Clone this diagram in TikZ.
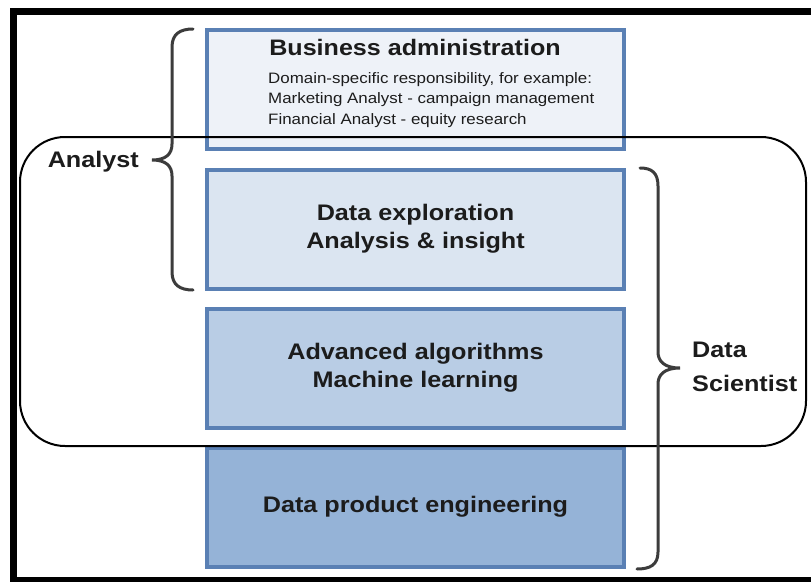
\documentclass[tikz,border=0pt]{standalone}
\usepackage{fontspec}
\setmainfont{Liberation Sans}[FakeStretch=1.12]
\definecolor{layerline}{RGB}{90,128,180}
\definecolor{layera}{RGB}{238,242,248}
\definecolor{layerb}{RGB}{219,229,241}
\definecolor{layerc}{RGB}{185,205,229}
\definecolor{layerd}{RGB}{149,179,215}
\definecolor{bracegrey}{RGB}{60,60,60}
\definecolor{ink}{RGB}{28,28,28}
\tikzset{
  layer/.style={draw=layerline, line width=4pt, minimum width=417pt,
    minimum height=119pt, inner sep=0pt, align=center, text=ink,
    font=\fontsize{22.5}{28}\selectfont\bfseries},
  curly/.style={draw=bracegrey, line width=3pt, line cap=round},
  role/.style={text=ink, inner sep=0pt, font=\fontsize{22.5}{34}\selectfont\bfseries},
}
\begin{document}
\begin{tikzpicture}[x=1pt, y=-1pt]
\useasboundingbox (0,0) rectangle (811,581);
\clip (0,0) rectangle (811,581);
\fill[white] (0,0) rectangle (811,581);
% the four layers
\node[layer, fill=layera] (business) at (415.5,89) {};
\foreach \n/\y/\c/\t in {explore/229/layerb/{Data exploration\\Analysis \& insight},
                         algo/368/layerc/{Advanced algorithms\\Machine learning},
                         product/507/layerd/{Data product engineering}}
{
    \node[layer, fill=\c] (\n) at (415.5,\y) {\t};
}
\node[anchor=base, inner sep=0pt, text=ink, font=\fontsize{22.4}{26}\selectfont\bfseries]
    (businesstitle) at (415,55) {Business administration};
\node[anchor=north west, inner sep=0pt, align=left, text=ink, font=\fontsize{15.1}{20.5}\selectfont]
    (businessnote) at (268,72) {Domain-specific responsibility, for example:\\
    Marketing Analyst - campaign management\\Financial Analyst - equity research};
% overlap of the two roles
\node[draw=black, line width=2pt, rounded corners=45pt, minimum width=786pt,
    minimum height=309pt, inner sep=0pt] (overlap) at (413,291.5) {};
% braces
\draw[curly] (193,29) .. controls (180,29) and (172,34) .. (172,47) -- (172,144)
    .. controls (172,154) and (166,160) .. (152,160)
    .. controls (166,160) and (172,166) .. (172,176) -- (172,272)
    .. controls (172,285) and (180,290) .. (193,290);
\draw[curly] (640,168) .. controls (652,168) and (658,173) .. (658,186) -- (658,352)
    .. controls (658,361) and (664,368) .. (680,368)
    .. controls (664,368) and (658,375) .. (658,384) -- (658,552)
    .. controls (658,565) and (650,569) .. (637,569);
\node[role, anchor=base east] (analyst) at (139,167) {Analyst};
\node[role, anchor=north west, align=left] (scientist) at (692,341.9) {Data\\Scientist};
% frame
\draw[line width=7pt] (13.5,11.5) rectangle (830,580.5);
\end{tikzpicture}
\end{document}
